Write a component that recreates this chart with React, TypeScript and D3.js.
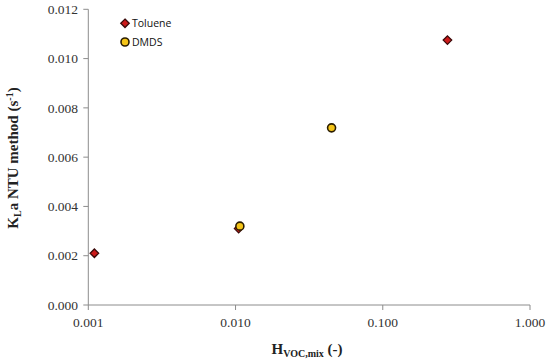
import React from "react";
import * as d3 from "d3";

const tolueneX = [0.0011, 0.0105, 0.275];
const tolueneY = [0.0021, 0.0031, 0.01075];
const dmdsX = [0.0107, 0.0449];
const dmdsY = [0.0032, 0.00719];
const xTicks = [0.001, 0.01, 0.1, 1];
const yTicks = [0, 0.002, 0.004, 0.006, 0.008, 0.01, 0.012];

export default function App() {
  const W = 550, H = 362;
  const x = d3.scaleLog().domain([0.001, 1]).range([88.3, 530]);
  const y = d3.scaleLinear().domain([0, 0.012]).range([305, 9.3]);
  const axisColor = "#8c8c8c";
  const serif = "'Liberation Serif', 'Times New Roman', serif";
  const sans = "'Open Sans', 'Liberation Sans', sans-serif";
  const diamond = d3.symbol().type(d3.symbolDiamond2).size(46)();
  return (
    <svg width={W} height={H} style={{ position: "absolute", left: 0, top: 0, background: "#fff" }}>
      <g>
        <line x1={x(0.001)} x2={x(0.001)} y1={y(0.012)} y2={y(0)} stroke={axisColor} strokeWidth={1} />
        <line x1={x(0.001)} x2={x(1)} y1={y(0)} y2={y(0)} stroke={axisColor} strokeWidth={1} />
        {yTicks.map((t) => (
          <g key={"y" + t}>
            <line x1={x(0.001) - 5} x2={x(0.001)} y1={y(t)} y2={y(t)} stroke={axisColor} />
            <text x={78} y={y(t)} dy="0.35em" textAnchor="end" fontFamily={serif} fontSize={13.5} fill="#333">
              {d3.format(".3f")(t)}
            </text>
          </g>
        ))}
        {xTicks.map((t) => (
          <g key={"x" + t}>
            <line x1={x(t)} x2={x(t)} y1={y(0)} y2={y(0) + 5} stroke={axisColor} />
            <text x={x(t)} y={327} textAnchor="middle" fontFamily={serif} fontSize={13.5} fill="#333">
              {d3.format(".3f")(t)}
            </text>
          </g>
        ))}
        <text x={307} y={354} textAnchor="middle" fontFamily={serif} fontSize={15} fontWeight="bold" fill="#222">
          H<tspan fontSize={10} dy={3}>VOC,mix</tspan>
          <tspan dy={-3}> (-)</tspan>
        </text>
        <text transform={`translate(18,158) rotate(-90)`} textAnchor="middle" fontFamily={serif} fontSize={15} fontWeight="bold" fill="#222">
          K<tspan fontSize={10} dy={3}>L</tspan>
          <tspan dy={-3}>a NTU method (s</tspan>
          <tspan fontSize={10} dy={-5}>-1</tspan>
          <tspan dy={5}>)</tspan>
        </text>
        {tolueneX.map((v, i) => (
          <path key={"t" + i} d={diamond!} transform={`translate(${x(v)},${y(tolueneY[i])})`} fill="#cc1a1a" stroke="#3a0a0a" strokeWidth={1.3} />
        ))}
        {dmdsX.map((v, i) => (
          <circle key={"d" + i} cx={x(v)} cy={y(dmdsY[i])} r={4} fill="#f5c518" stroke="#2b1d00" strokeWidth={1.6} />
        ))}
        <path d={diamond!} transform="translate(125,23.3)" fill="#cc1a1a" stroke="#3a0a0a" strokeWidth={1.3} />
        <text x={132} y={23.3} dy="0.35em" fontFamily={sans} fontSize={10.5} fill="#111">Toluene</text>
        <circle cx={125} cy={42} r={4} fill="#f5c518" stroke="#2b1d00" strokeWidth={1.6} />
        <text x={132} y={42} dy="0.35em" fontFamily={sans} fontSize={10.5} fill="#111">DMDS</text>
      </g>
    </svg>
  );
}
